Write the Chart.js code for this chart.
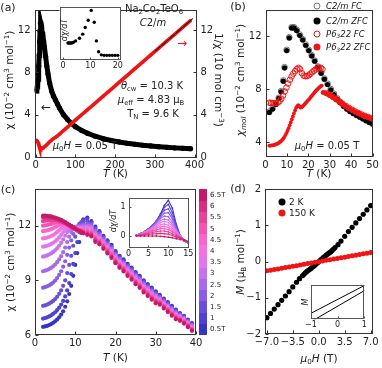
<!DOCTYPE html>
<html><head><meta charset="utf-8">
<script src="https://cdn.jsdelivr.net/npm/chart.js@4.4.1/dist/chart.umd.min.js"></script>
<style>
html,body{margin:0;padding:0;background:#fff;}
#wrap{position:relative;width:382px;height:368px;overflow:hidden;font-family:"DejaVu Sans",sans-serif;color:#222;}
canvas{position:absolute;left:0;top:0;}
.t{position:absolute;white-space:nowrap;line-height:1;font-size:10px;}
.c{transform:translate(-50%,-50%);}
.rl{transform:translate(-50%,-50%) rotate(-90deg);}
.rr{transform:translate(-50%,-50%) rotate(90deg);}
.l{transform:translate(0,-50%);}
sub,sup{font-size:0.68em;line-height:0;position:relative;vertical-align:baseline;}
sup{top:-0.5em;} sub{top:0.3em;}
.dot{position:absolute;border-radius:50%;transform:translate(-50%,-50%);box-sizing:border-box;}
.cb{position:absolute;left:199px;width:8px;}
</style></head><body><div id="wrap"></div>
<script>
// ---------------- DATA ----------------
// (a) chi(T) and 1/chi(T)
const aT   = [2,3,4,5,6,7,8,9,10,11,12,13,14,15,16,18,20,22,25,28,31,35,40,45,50,55,60,70,80,90,100,115,130,150,170,190,210,230,250,270,290,310,330,350,370,390];
const aChi = [6.25,6.45,6.7,7.0,7.35,7.85,8.6,9.6,10.9,11.9,12.65,12.7,12.45,12.15,11.8,11.45,10.95,10.4,9.5,8.6,7.85,7.0,6.25,5.75,5.38,5.0,4.62,4.0,3.55,3.17,2.87,2.52,2.25,1.96,1.74,1.56,1.42,1.3,1.2,1.11,1.04,0.97,0.91,0.86,0.82,0.78];
const aInv = [1.6,1.55,1.49,1.43,1.36,1.27,1.16,1.04,0.92,0.84,0.79,0.79,0.8,0.82,0.85,0.87,0.91,0.96,1.05,1.16,1.27,1.43,1.6,1.74,1.86,2.0,2.16,2.5,2.82,3.15,3.48,3.97,4.45,5.1,5.75,6.4,7.05,7.7,8.35,9.0,9.65,10.3,10.95,11.6,12.25,12.9];
const aFitT = [300,396];
const aFitV = [9.98,13.1];
const aXTicks = [0,100,200,300,400];
const aYTicks = [0,4,8,12];
// (a) inset dchi/dT
const aInT = [1.8,2.2,2.6,3.0,3.4,3.8,4.6,6.0,7.2,8.1,9.2,10.3,11.4,12.2,13.0,14.0,15.0,16.0,17.0,18.0,19.0,20.0];
const aInV = [0.33,0.33,0.33,0.33,0.335,0.345,0.37,0.42,0.5,0.63,0.77,0.96,0.73,0.37,0.16,0.1,0.09,0.09,0.09,0.09,0.09,0.09];
const aInXTicks = [0,10,20];

// (b) chi_mol(T)
const bCT  = [1.8,3.3,4.8,6.2,7.3,8.3,8.9,9.9,11.1,12.2,13.3,14.6,16,17.4,18.8,20.2,21.6,23,24.5,26,27.5,29,30.5,32,33.5,35,36.5,38,39.5,41,42.5,44,45.5,47,48.5,50];
const bCZFC= [6.25,6.5,6.85,7.3,7.8,8.6,9.6,10.9,11.85,12.6,12.6,12.4,12.05,11.7,11.3,10.9,10.5,10.1,9.65,9.2,8.75,8.35,7.95,7.6,7.25,6.98,6.72,6.5,6.32,6.17,6.03,5.9,5.77,5.63,5.5,5.38];
const bCFC = [6.3,6.55,6.9,7.35,7.85,8.65,9.65,10.95,11.9,12.65,12.65,12.45,12.1,11.75,11.35,10.95,10.55,10.15,9.7,9.25,8.8,8.4,8.0,7.65,7.3,7.02,6.76,6.54,6.36,6.2,6.06,5.93,5.8,5.66,5.53,5.4];
const bPFCT = [1.8,2.6,3.4,4.2,5.0,5.8,6.6,7.4,8.2,9.0,9.8,10.6,11.4,12.2,13.0,13.8,14.6,15.4,16.2,17.0,17.8,18.6,19.4,20.2,21.0,21.8,22.6,23.4,24.2,25.0,25.8,26.6,28.5,30,31.5,33,34.5,36,37.5,39,40.5,42,43.5,45,46.5,48,49.5];
const bPFC  = [6.98,6.96,6.95,6.95,6.96,7.0,7.1,7.28,7.52,7.82,8.12,8.42,8.7,8.95,9.17,9.35,9.5,9.6,9.5,9.2,9.02,8.97,8.98,9.05,9.15,9.27,9.38,9.48,9.55,9.6,9.6,9.5,7.7,7.57,7.42,7.24,7.07,6.9,6.74,6.59,6.45,6.32,6.2,6.09,5.99,5.9,5.82];
const bPZT = [1.8,2.3,2.8,3.3,3.8,4.3,4.8,5.3,5.8,6.3,6.8,7.3,7.8,8.3,8.8,9.3,9.8,10.3,10.8,11.3,11.8,12.3,12.8,13.3,13.8,14.3,14.8,15.3,15.8,16.3,16.8,17.3,17.8,18.3,18.8,19.3,19.8,20.3,20.8,21.3,21.8,22.3,22.8,23.3,23.8,24.3,24.8,25.3,25.8,26.3,27,28.5,30,31.5,33,34.5,36,37.5,39,40.5,42,43.5,45,46.5,48,49.5];
const bPZFC= [3.75,3.76,3.77,3.78,3.8,3.82,3.85,3.88,3.92,3.97,4.03,4.1,4.18,4.28,4.4,4.55,4.7,4.88,5.07,5.28,5.5,5.72,5.95,6.18,6.4,6.6,6.72,6.8,6.72,6.62,6.63,6.7,6.78,6.87,6.96,7.05,7.14,7.23,7.33,7.43,7.53,7.63,7.73,7.83,7.92,8.0,8.08,8.15,8.22,8.27,7.75,7.68,7.55,7.4,7.22,7.05,6.88,6.72,6.57,6.43,6.3,6.18,6.07,5.97,5.88,5.8];
const bXTicks = [0,10,20,30,40,50];
const bYTicks = [4,8,12];

// (c) chi(T) at fields 0.5T ... 6.5T
const cFields = ['0.5T','1','1.5','2','2.5','3','3.5','4','4.5','5','5.5','6','6.5T'];
const cColors = ['#3535c6','#4d42d2','#6a4fdc','#8a5ee4','#a969ea','#c771ee','#e276ee','#f571e2','#fb64cb','#f453b2','#e84198','#d92d80','#c61a66'];
const cT = [2,2.5,3,3.5,4,4.5,5,5.5,6,6.5,7,7.5,8,8.5,9,9.5,10,10.5,11,11.5,12,13,14,15,16,17,18,19,20,21,22,23,24,25,26,27,28,29,30,31,32,33,34,35,36,37,38,39];
const chi05 = [6.45,6.47,6.5,6.55,6.6,6.67,6.75,6.85,6.97,7.12,7.3,7.55,7.85,8.25,8.7,9.25,9.85,10.5,11.1,11.6,12.1,12.45,12.25,11.95,11.7,11.45,11.2,10.95,10.6,10.35,10.15,9.9,9.7,9.45,9.25,9.0,8.8,8.6,8.4,8.2,8.0,7.8,7.6,7.4,7.2,7.05,6.85,6.65];
const chi10 = [6.9,6.93,6.97,7.02,7.08,7.16,7.25,7.37,7.5,7.67,7.87,8.12,8.45,8.85,9.35,9.9,10.5,11.1,11.65,12.05,12.35,12.38,12.18,11.88,11.64,11.39,11.14,10.89,10.55,10.3,10.1,9.85,9.65,9.4,9.2,8.95,8.75,8.55,8.35,8.16,7.96,7.76,7.56,7.36,7.17,7.02,6.82,6.62];
const chi15 = [7.6,7.63,7.67,7.72,7.79,7.87,7.97,8.1,8.26,8.45,8.7,9.0,9.4,9.85,10.35,10.9,11.4,11.8,12.1,12.2,12.22,12.25,12.11,11.81,11.58,11.33,11.08,10.83,10.49,10.24,10.04,9.79,9.59,9.34,9.14,8.89,8.69,8.49,8.29,8.11,7.91,7.71,7.51,7.31,7.13,6.98,6.78,6.58];
const chi20 = [8.6,8.63,8.67,8.72,8.79,8.88,8.99,9.13,9.3,9.5,9.75,10.05,10.4,10.8,11.2,11.55,11.82,11.97,12.02,12.05,12.08,12.1,12.04,11.74,11.52,11.27,11.02,10.77,10.44,10.19,9.99,9.74,9.54,9.29,9.09,8.84,8.64,8.44,8.24,8.07,7.87,7.67,7.47,7.27,7.1,6.95,6.75,6.55];
const chi25 = [9.5,9.53,9.57,9.62,9.69,9.77,9.87,10.0,10.15,10.33,10.55,10.8,11.1,11.4,11.65,11.82,11.9,11.93,11.95,11.97,12.0,12.0,11.97,11.67,11.46,11.21,10.96,10.71,10.38,10.13,9.93,9.68,9.48,9.23,9.03,8.78,8.58,8.38,8.18,8.02,7.82,7.62,7.42,7.22,7.06,6.91,6.71,6.51];
const chi30 = [10.3,10.33,10.37,10.42,10.48,10.56,10.65,10.76,10.9,11.06,11.25,11.45,11.65,11.8,11.88,11.9,11.9,11.9,11.9,11.9,11.92,11.95,11.9,11.6,11.4,11.15,10.9,10.65,10.33,10.08,9.88,9.63,9.43,9.18,8.98,8.73,8.53,8.33,8.13,7.98,7.78,7.58,7.38,7.18,7.03,6.88,6.68,6.48];
const chi35 = [10.85,10.87,10.9,10.94,10.99,11.06,11.14,11.24,11.36,11.5,11.65,11.8,11.9,11.95,11.95,11.93,11.9,11.88,11.87,11.87,11.87,11.9,11.83,11.53,11.34,11.09,10.84,10.59,10.27,10.02,9.82,9.57,9.37,9.12,8.92,8.67,8.47,8.27,8.07,7.93,7.73,7.53,7.33,7.13,6.99,6.84,6.64,6.44];
const chi40 = [11.3,11.32,11.35,11.38,11.43,11.49,11.56,11.65,11.75,11.85,11.93,11.98,12.0,11.98,11.95,11.9,11.86,11.83,11.82,11.82,11.82,11.83,11.76,11.46,11.28,11.03,10.78,10.53,10.22,9.97,9.77,9.52,9.32,9.07,8.87,8.62,8.42,8.22,8.02,7.89,7.69,7.49,7.29,7.09,6.96,6.81,6.61,6.41];
const chi45 = [11.7,11.72,11.74,11.77,11.81,11.86,11.92,11.98,12.04,12.08,12.1,12.09,12.05,12.0,11.94,11.88,11.83,11.8,11.78,11.77,11.77,11.76,11.69,11.39,11.22,10.97,10.72,10.47,10.16,9.91,9.71,9.46,9.26,9.01,8.81,8.56,8.36,8.16,7.96,7.84,7.64,7.44,7.24,7.04,6.92,6.77,6.57,6.37];
const chi50 = [12.0,12.02,12.04,12.07,12.1,12.14,12.17,12.19,12.2,12.2,12.18,12.15,12.1,12.04,11.98,11.91,11.85,11.8,11.76,11.73,11.71,11.68,11.62,11.32,11.16,10.91,10.66,10.41,10.11,9.86,9.66,9.41,9.21,8.96,8.76,8.51,8.31,8.11,7.91,7.8,7.6,7.4,7.2,7.0,6.89,6.74,6.54,6.34];
const chi55 = [12.25,12.27,12.29,12.3,12.31,12.32,12.32,12.31,12.28,12.24,12.19,12.14,12.08,12.02,11.96,11.89,11.83,11.77,11.72,11.68,11.65,11.6,11.55,11.25,11.1,10.85,10.6,10.35,10.05,9.8,9.6,9.35,9.15,8.9,8.7,8.45,8.25,8.05,7.85,7.75,7.55,7.35,7.15,6.95,6.85,6.7,6.5,6.3];
const chi60 = [12.45,12.45,12.45,12.44,12.43,12.41,12.38,12.34,12.3,12.25,12.19,12.13,12.07,12.0,11.93,11.86,11.79,11.73,11.68,11.63,11.58,11.53,11.48,11.18,11.04,10.79,10.54,10.29,10.0,9.75,9.55,9.3,9.1,8.85,8.65,8.4,8.2,8.0,7.8,7.71,7.51,7.31,7.11,6.91,6.82,6.67,6.47,6.27];
const chi65 = [12.55,12.55,12.54,12.53,12.51,12.48,12.45,12.41,12.37,12.32,12.26,12.2,12.13,12.06,11.99,11.92,11.85,11.78,11.72,11.66,11.6,11.5,11.41,11.11,10.98,10.73,10.48,10.23,9.94,9.69,9.49,9.24,9.04,8.79,8.59,8.34,8.14,7.94,7.74,7.66,7.46,7.26,7.06,6.86,6.78,6.63,6.43,6.23];
const cXTicks = [0,10,20,30,40];
const cYTicks = [6,9,12];
// (c) inset dchi/dT
const cInT = [2,3,4,5,6,7,8,9,10,11,12,13,14,15];
const d05 = [0.03,0.08,0.15,0.24,0.36,0.52,0.75,1.05,1.22,0.95,0.4,0.0,-0.17,-0.25];
const d10 = [0.03,0.08,0.15,0.24,0.36,0.51,0.72,0.98,1.08,0.8,0.35,0.0,-0.17,-0.25];
const d15 = [0.03,0.08,0.15,0.24,0.35,0.5,0.7,0.88,0.93,0.68,0.3,0.0,-0.16,-0.24];
const d20 = [0.03,0.08,0.15,0.23,0.34,0.48,0.65,0.78,0.8,0.58,0.26,0.0,-0.16,-0.24];
const d25 = [0.03,0.08,0.14,0.22,0.32,0.45,0.6,0.68,0.66,0.48,0.22,0.0,-0.15,-0.23];
const d30 = [0.03,0.07,0.13,0.21,0.3,0.42,0.53,0.58,0.55,0.4,0.18,-0.01,-0.15,-0.23];
const d35 = [0.02,0.07,0.12,0.19,0.27,0.37,0.46,0.5,0.46,0.33,0.15,-0.02,-0.14,-0.22];
const d40 = [0.02,0.06,0.11,0.17,0.24,0.32,0.39,0.41,0.37,0.26,0.11,-0.03,-0.14,-0.22];
const d45 = [0.02,0.05,0.1,0.15,0.21,0.27,0.32,0.33,0.29,0.2,0.08,-0.04,-0.14,-0.21];
const d50 = [0.02,0.05,0.08,0.12,0.17,0.21,0.25,0.25,0.22,0.14,0.05,-0.05,-0.13,-0.21];
const d55 = [0.01,0.04,0.06,0.09,0.12,0.15,0.17,0.17,0.14,0.08,0.01,-0.06,-0.13,-0.2];
const d60 = [0.01,0.02,0.04,0.05,0.07,0.08,0.09,0.08,0.06,0.02,-0.03,-0.08,-0.13,-0.2];
const d65 = [0.0,0.0,0.0,0.0,0.0,0.0,-0.01,-0.02,-0.04,-0.06,-0.09,-0.12,-0.15,-0.2];
const cInXTicks = [0,5,10,15];
const cInYTicks = [0,1];

// (d) M(H)
const dH2 = [-7,-6.5,-6,-5.5,-5,-4.5,-4,-3.5,-3,-2.6,-2.2,-2.0,-1.8,-1.6,-1.4,-1.2,-1.0,-0.8,-0.6,-0.4,-0.2,0,0.2,0.4,0.6,0.8,1.0,1.2,1.4,1.6,1.8,2.0,2.2,2.6,3,3.5,4,4.5,5,5.5,6,6.5,7];
const dM2 = [-1.55,-1.43,-1.31,-1.19,-1.07,-0.95,-0.83,-0.7,-0.57,-0.47,-0.39,-0.35,-0.31,-0.27,-0.24,-0.21,-0.18,-0.14,-0.11,-0.07,-0.035,0,0.035,0.07,0.11,0.14,0.18,0.21,0.24,0.27,0.31,0.35,0.39,0.47,0.57,0.7,0.83,0.95,1.07,1.19,1.31,1.43,1.55];
const dH150 = [-7,-6.5,-6,-5.5,-5,-4.5,-4,-3.5,-3,-2.5,-2,-1.5,-1,-0.5,0,0.5,1,1.5,2,2.5,3,3.5,4,4.5,5,5.5,6,6.5,7];
const dM150 = [-0.25,-0.235,-0.215,-0.2,-0.18,-0.16,-0.145,-0.125,-0.11,-0.09,-0.072,-0.054,-0.036,-0.018,0,0.018,0.036,0.054,0.072,0.09,0.11,0.125,0.145,0.16,0.18,0.2,0.215,0.235,0.25];
const dXTicks = [-7,-3.5,0,3.5,7];
const dXLabels = ['\u22127.0','\u22123.5','0.0','3.5','7.0'];
const dYTicks = [-2,-1,0,1,2];
const dYLabels = ['\u22122','\u22121','0','1','2'];
// (d) inset hysteresis branches
const dInH = [-1.2,1.2];
const dInUp = [-0.81,1.13];
const dInLo = [-1.32,0.85];
const dInXTicks = [-1,0,1];
const dInXLabels = ['\u22121','0','1'];

// ---------------- DRAWING ----------------
const W=382,H=368;
const RED='#f01414';
const wrap=document.getElementById('wrap');
Chart.defaults.font.family="'DejaVu Sans', sans-serif";
Chart.defaults.color='#222';
const zip=(xs,ys)=>xs.map((x,i)=>({x:x,y:ys[i]}));

Chart.register({
  id:'frame',
  beforeDatasetsDraw(chart,args,o){
    if(o&&o.bg){const a=chart.chartArea,c=chart.ctx;c.save();c.fillStyle=o.bg;c.fillRect(a.left,a.top,a.right-a.left,a.bottom-a.top);c.restore();}
  },
  afterDraw(chart,args,o){
    const a=chart.chartArea,c=chart.ctx;c.save();
    c.strokeStyle=(o&&o.color)||'#333';c.lineWidth=1;
    const L=Math.round(a.left)+0.5,T=Math.round(a.top)+0.5,R=Math.round(a.right)-0.5,B=Math.round(a.bottom)-0.5;
    c.strokeRect(L,T,R-L,B-T);
    const len=(o&&o.tick)||3;
    c.beginPath();
    Object.values(chart.scales).forEach(s=>{
      if(!s.options.display)return;
      s.ticks.forEach(t=>{
        const p=Math.round(s.getPixelForValue(t.value))+0.5;
        if(s.isHorizontal()){c.moveTo(p,B);c.lineTo(p,B-len);}
        else if(s.position==='right'){c.moveTo(R,p);c.lineTo(R-len,p);}
        else{c.moveTo(L,p);c.lineTo(L+len,p);}
      });
    });
    c.stroke();c.restore();
  }
});

function ax(min,max,vals,labels,opt){
  opt=opt||{};
  return {
    type:'linear',min:min,max:max,bounds:'data',position:opt.pos||'bottom',display:opt.display!==false,
    afterBuildTicks:s=>{s.ticks=vals.map(v=>({value:v}));},
    afterFit:s=>{if(opt.size!=null){if(s.isHorizontal())s.height=opt.size;else s.width=opt.size;}},
    ticks:{autoSkip:false,maxRotation:0,minRotation:0,padding:(opt.pad!=null?opt.pad:3),font:{size:opt.fs||10},color:'#222',
      callback:(v,i)=>labels?labels[i]:String(v)},
    grid:{display:false,drawTicks:false},border:{display:false}
  };
}
function mk(box,datasets,scales,frame){
  const cv=document.createElement('canvas');cv.width=W;cv.height=H;cv.style.width=W+'px';cv.style.height=H+'px';
  wrap.appendChild(cv);
  return new Chart(cv,{type:'scatter',data:{datasets:datasets},options:{
    responsive:false,animation:false,devicePixelRatio:1,events:[],
    layout:{autoPadding:false,padding:{left:box.l-(box.yw||0),top:box.t,right:W-box.r-(box.y2w||0),bottom:H-box.b-(box.xh||0)}},
    plugins:{legend:{display:false},tooltip:{enabled:false},frame:frame||{}},
    scales:scales
  }});
}

// (a) main
mk({l:34.5,r:196.5,t:2,b:157.5,yw:30,y2w:16,xh:16},[
  {data:zip(aFitT,aFitV),showLine:true,borderColor:'#000',borderWidth:1,pointRadius:0,order:0},
  {data:zip(aT,aInv),showLine:true,borderColor:RED,borderWidth:3.6,pointRadius:1.6,pointBackgroundColor:RED,pointBorderWidth:0,order:1},
  {data:zip(aT,aChi),showLine:true,borderColor:'#000',borderWidth:5,pointRadius:2.6,pointBackgroundColor:'#000',pointBorderWidth:0,order:2}
],{
  x:ax(-3,405,aXTicks,null,{size:16,pad:2}),
  y:ax(-0.05,13.9,aYTicks,null,{pos:'left',size:30,pad:4}),
  y2:ax(-0.05,13.9,aYTicks,null,{pos:'right',size:16,pad:4})
});
// (b) main
mk({l:265.5,r:372.5,t:2,b:157,yw:30,xh:16},[
  {data:zip(bPZT,bPZFC),pointRadius:c=>c.raw&&c.raw.x>26.8?2.5:1.9,pointBackgroundColor:RED,pointBorderWidth:0,order:0},
  {data:zip(bPFCT,bPFC),pointRadius:2.8,pointBackgroundColor:'rgba(0,0,0,0)',pointBorderColor:RED,pointBorderWidth:1,order:1},
  {data:zip(bCT,bCZFC),pointRadius:2.6,pointBackgroundColor:'#000',pointBorderWidth:0,order:2},
  {data:zip(bCT,bCFC),pointRadius:2.9,pointBackgroundColor:'rgba(0,0,0,0)',pointBorderColor:'#777',pointBorderWidth:1,order:3}
],{
  x:ax(0,50,bXTicks,null,{size:16,pad:2}),
  y:ax(2.9,13.95,bYTicks,null,{pos:'left',size:30,pad:4})
});
// (c) main
const cSeries=[chi05,chi10,chi15,chi20,chi25,chi30,chi35,chi40,chi45,chi50,chi55,chi60,chi65];
mk({l:35,r:196,t:189.3,b:335,yw:30,xh:16},cSeries.map((s,i)=>({
  data:zip(cT,s),pointRadius:2.1,pointBackgroundColor:cColors[i],pointBorderWidth:0,order:12-i
})),{
  x:ax(0,40,cXTicks,null,{size:16,pad:2}),
  y:ax(6,14,cYTicks,null,{pos:'left',size:30,pad:4})
});
// (d) main
mk({l:265,r:372.5,t:189.3,b:334,yw:30,xh:16},[
  {data:zip(dH150,dM150),pointRadius:2.5,pointBackgroundColor:RED,pointBorderWidth:0,order:0},
  {data:zip(dH2,dM2),pointRadius:2.6,pointBackgroundColor:'#000',pointBorderWidth:0,order:1}
],{
  x:ax(-7.25,7.25,dXTicks,dXLabels,{size:16,pad:2}),
  y:ax(-2,2,dYTicks,dYLabels,{pos:'left',size:30,pad:4})
});
// (a) inset
mk({l:59.5,r:120.5,t:7.3,b:60,xh:10},[
  {data:zip(aInT,aInV),pointRadius:1.7,pointBackgroundColor:'#000',pointBorderWidth:0}
],{
  x:ax(-1.3,21,aInXTicks,null,{size:10,fs:8,pad:1}),
  y:ax(0,1.02,[],null,{pos:'left',display:false})
},{bg:'#fff',color:'#555',tick:2});
// (c) inset
const cIn=[d05,d10,d15,d20,d25,d30,d35,d40,d45,d50,d55,d60,d65];
mk({l:128.5,r:189.3,t:197.7,b:247.7,yw:12,xh:10},cIn.map((s,i)=>({
  data:zip(cInT,s),showLine:true,borderColor:cColors[i],borderWidth:1.1,pointRadius:0.9,pointBackgroundColor:cColors[i],pointBorderWidth:0,order:12-i
})),{
  x:ax(0,15.25,cInXTicks,null,{size:10,fs:8,pad:1}),
  y:ax(-0.4,1.31,cInYTicks,null,{pos:'left',size:12,fs:8,pad:3})
},{bg:'#fff',color:'#555',tick:2});
// (d) inset
mk({l:311,r:364.3,t:285,b:319.3,xh:10},[
  {data:zip(dInH,dInUp),showLine:true,borderColor:'#000',borderWidth:1,pointRadius:0},
  {data:zip(dInH,dInLo),showLine:true,borderColor:'#000',borderWidth:1,pointRadius:0}
],{
  x:ax(-1,1,dInXTicks,dInXLabels,{size:10,fs:8,pad:1}),
  y:ax(-1,1,[],null,{pos:'left',display:false})
},{bg:'#fff',color:'#555',tick:2});

// colorbar from field arrays
const cbTop=189.3,cbH=(335-189.3)/cFields.length;
for(let k=0;k<cFields.length;k++){
  const idx=cFields.length-1-k;
  const d=document.createElement('div');d.className='cb';
  d.style.top=(cbTop+k*cbH)+'px';d.style.height=(cbH+0.5)+'px';d.style.background=cColors[idx];
  wrap.appendChild(d);
  const t=document.createElement('div');t.className='t l';t.style.left='210px';t.style.top=(cbTop+(k+0.5)*cbH)+'px';t.style.fontSize='7px';
  t.textContent=cFields[idx];wrap.appendChild(t);
}

// text overlays
const texts=`
<div class="t c" style="left:8px;top:7px;font-size:11px">(a)</div>
<div class="t c" style="left:238px;top:6px;font-size:11px">(b)</div>
<div class="t c" style="left:8px;top:189px;font-size:11px">(c)</div>
<div class="t c" style="left:238px;top:188px;font-size:11px">(d)</div>

<div class="t rl" style="left:9px;top:79.5px;font-size:10.5px">χ (10<sup>−2</sup> cm<sup>3</sup> mol<sup>−1</sup>)</div>
<div class="t c" style="left:115.5px;top:173px;font-size:10.5px"><i>T</i> (K)</div>
<div class="t rr" style="left:219px;top:79.5px;font-size:10.5px">1/χ (10 mol cm<sup>−3</sup>)</div>
<div class="t c" style="left:154px;top:9px">Na<sub>2</sub>Co<sub>2</sub>TeO<sub>6</sub></div>
<div class="t c" style="left:153px;top:23px"><i>C</i>2/<i>m</i></div>
<div class="t c" style="left:152px;top:86px"><i>θ</i><sub>cw</sub> = 10.3 K</div>
<div class="t c" style="left:151px;top:100px"><i>μ</i><sub>eff</sub> = 4.83 μ<sub>B</sub></div>
<div class="t c" style="left:153px;top:114px">T<sub>N</sub> = 9.6 K</div>
<div class="t c" style="left:85px;top:146px"><i>μ</i><sub>0</sub><i>H</i> = 0.05 T</div>
<div class="t c" style="left:46px;top:107px;font-size:12px">←</div>
<div class="t c" style="left:182px;top:43px;font-size:12px;color:${RED}">→</div>
<div class="t rl" style="left:65px;top:30px;font-size:8px"><i>dχ/dT</i></div>

<div class="t rl" style="left:240px;top:79.5px;font-size:10.5px"><i>χ</i><sub><i>mol</i></sub> (10<sup>−2</sup> cm<sup>3</sup> mol<sup>−1</sup>)</div>
<div class="t c" style="left:319px;top:173px;font-size:10.5px"><i>T</i> (K)</div>
<div class="t c" style="left:327px;top:146px"><i>μ</i><sub>0</sub><i>H</i> = 0.05 T</div>
<div class="dot" style="left:317px;top:6px;width:7px;height:7px;border:1px solid #777"></div>
<div class="t l" style="left:326px;top:6px;font-size:8.5px;font-style:italic">C2/m FC</div>
<div class="dot" style="left:317px;top:20.5px;width:7px;height:7px;background:#000"></div>
<div class="t l" style="left:326px;top:20.5px;font-size:8.5px;font-style:italic">C2/m ZFC</div>
<div class="dot" style="left:317px;top:33.5px;width:7px;height:7px;border:1px solid ${RED}"></div>
<div class="t l" style="left:326px;top:33.5px;font-size:8.5px;font-style:italic">P6<sub>3</sub>22 FC</div>
<div class="dot" style="left:317px;top:47px;width:7px;height:7px;background:${RED}"></div>
<div class="t l" style="left:326px;top:47px;font-size:8.5px;font-style:italic">P6<sub>3</sub>22 ZFC</div>

<div class="t rl" style="left:10px;top:262px;font-size:10.5px">χ (10<sup>−2</sup> cm<sup>3</sup> mol<sup>−1</sup>)</div>
<div class="t c" style="left:115.5px;top:357px;font-size:10.5px"><i>T</i> (K)</div>
<div class="t rl" style="left:114px;top:221px;font-size:8px"><i>dχ/dT</i></div>

<div class="t rl" style="left:240px;top:261.5px;font-size:10.5px"><i>M</i> (μ<sub>B</sub> mol<sup>−1</sup>)</div>
<div class="t c" style="left:319px;top:358px;font-size:10.5px"><i>μ</i><sub>0</sub><i>H</i> (T)</div>
<div class="dot" style="left:282px;top:201.7px;width:7px;height:7px;background:#000"></div>
<div class="t l" style="left:289px;top:201.7px;font-size:9px">2 K</div>
<div class="dot" style="left:282px;top:213.3px;width:7px;height:7px;background:${RED}"></div>
<div class="t l" style="left:289px;top:213.3px;font-size:9px">150 K</div>
<div class="t rl" style="left:306px;top:302px;font-size:8px"><i>M</i></div>
`;
const tw=document.createElement('div');tw.innerHTML=texts;
while(tw.firstChild)wrap.appendChild(tw.firstChild);
</script></body></html>
